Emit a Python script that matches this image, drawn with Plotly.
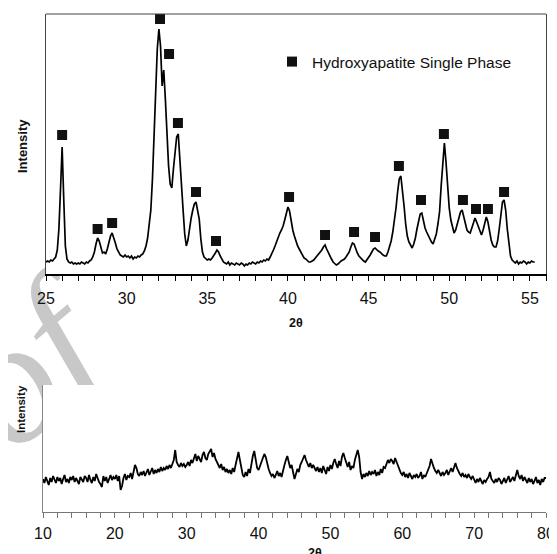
import numpy as np
import plotly.graph_objects as go

# ---------------- data ----------------
# Top pattern: 2theta 25.0 .. 55.3, step 0.1
top_start, top_step = 25.0, 0.1
top_intensity = [
    12, 13, 12, 14, 13, 15, 17, 24, 45, 85,
    127, 75, 28, 15, 12, 11, 12, 10, 11, 10,
    11, 10, 12, 11, 10, 12, 11, 13, 14, 17,
    22, 30, 36, 33, 26, 21, 22, 20, 25, 32,
    38, 41, 37, 31, 25, 21, 19, 18, 17, 19,
    17, 18, 16, 18, 15, 17, 16, 18, 17, 19,
    20, 23, 28, 36, 48, 64, 95, 145, 185, 225,
    245, 228, 188, 204, 175, 135, 108, 90, 86, 105,
    125, 137, 140, 118, 88, 64, 40, 28, 34, 46,
    56, 64, 70, 72, 64, 55, 35, 22, 17, 15,
    14, 15, 14, 16, 18, 21, 24, 22, 18, 15,
    12, 11, 10, 12, 9, 11, 10, 9, 11, 10,
    9, 11, 10, 8, 10, 9, 11, 10, 12, 11,
    10, 12, 11, 13, 12, 14, 13, 15, 14, 17,
    20, 24, 28, 33, 38, 41, 44, 48, 54, 62,
    67, 63, 52, 44, 38, 32, 28, 25, 22, 19,
    16, 15, 13, 12, 12, 13, 14, 16, 18, 20,
    21, 24, 27, 29, 25, 21, 18, 15, 12, 10,
    9, 10, 12, 13, 14, 15, 17, 19, 22, 27,
    31, 30, 25, 21, 18, 16, 14, 13, 12, 14,
    16, 19, 22, 25, 26, 24, 23, 22, 20, 19,
    18, 18, 22, 27, 33, 42, 52, 66, 82, 95,
    98, 85, 68, 50, 38, 32, 28, 26, 30, 36,
    45, 52, 60, 61, 52, 46, 42, 38, 35, 32,
    30, 34, 40, 50, 62, 88, 115, 131, 112, 85,
    66, 54, 46, 41, 44, 50, 56, 62, 64, 58,
    50, 44, 42, 41, 46, 52, 56, 52, 47, 42,
    39, 44, 52, 57, 52, 42, 34, 29, 27, 27,
    33, 45, 62, 72, 74, 64, 45, 28, 18, 14,
    12, 11, 13, 10, 12, 11, 13, 12, 10, 12,
    11, 13, 12, 12,
]

# Hydroxyapatite peak markers
hap_2theta = [26.0, 28.2, 29.1, 32.07, 32.63, 33.18, 34.3, 35.54, 40.07, 42.3,
              44.1, 45.4, 46.88, 48.25, 49.67, 50.85, 51.66, 52.4, 53.4]
hap_intensity = [139, 45, 51, 255, 220, 151, 82, 33, 77, 39,
                 42, 37, 108, 74, 140, 74, 65, 65, 82]

# Bottom pattern: 2theta 10 .. 80, step 0.2
bot_start, bot_step = 10.0, 0.2
bot_intensity = [
    33, 29, 35, 31, 27, 34, 30, 36, 32, 29,
    35, 31, 34, 28, 33, 37, 30, 33, 29, 35,
    32, 36, 30, 34, 31, 28, 35, 33, 30, 36,
    34, 30, 37, 32, 29, 35, 31, 38, 33, 30,
    28, 25, 36, 31, 35, 29, 33, 37, 32, 35,
    33, 37, 31, 36, 22, 26, 34, 38, 32, 36,
    35, 39, 33, 40, 47, 44, 38, 36, 40, 37,
    41, 36, 39, 43, 37, 40, 44, 38, 42, 39,
    43, 40, 45, 41, 44, 42, 46, 43, 47, 44,
    48, 52, 62, 50, 47, 45, 49, 46, 48, 45,
    47, 50, 46, 52, 49, 55, 58, 51, 56, 53,
    50, 57, 60, 54, 52, 58, 61, 63, 55, 59,
    53, 50, 47, 44, 48, 42, 45, 40, 43, 39,
    42, 38, 44, 40, 47, 55, 60, 52, 42, 37,
    35, 40, 36, 43, 39, 48, 56, 61, 50, 44,
    42, 46, 49, 53, 58, 55, 47, 43, 39, 36,
    38, 34, 37, 41, 36, 39, 35, 42, 47, 52,
    56, 50, 44, 47, 40, 33, 38, 43, 40, 47,
    50, 54, 57, 52, 48, 45, 49, 44, 47, 43,
    41, 45, 40, 44, 39, 46, 42, 38, 45, 41,
    47, 43, 49, 53, 48, 44, 51, 46, 55, 59,
    54, 48, 45, 50, 42, 46, 44, 52, 57, 62,
    55, 40, 33, 38, 35, 39, 36, 41, 37, 40,
    38, 42, 36, 40, 37, 43, 39, 45, 44, 48,
    52, 49, 53, 51, 48, 54, 50, 46, 42, 39,
    37, 40, 35, 38, 34, 39, 36, 33, 37, 35,
    38, 34, 36, 40, 33, 37, 35, 39, 42, 46,
    53, 48, 44, 41, 39, 42, 38, 36, 40, 37,
    39, 42, 37, 41, 44, 40, 46, 49, 44, 40,
    38, 36, 39, 35, 37, 34, 38, 35, 33, 36,
    32, 29, 33, 30, 34, 31, 28, 32, 30, 33,
    35, 40, 33, 31, 29, 33, 30, 34, 32, 28,
    31, 34, 29, 33, 36, 30, 32, 35, 31, 37,
    42, 36, 33, 37, 31, 35, 32, 29, 34, 30,
    33, 28, 31, 35, 29, 32, 27, 33, 30, 34, 34,
]

top_2theta = np.round(top_start + top_step * np.arange(len(top_intensity)), 2)
bot_2theta = np.round(bot_start + bot_step * np.arange(len(bot_intensity)), 2)

legend_name = "Hydroxyapatite Single Phase"
watermark_text = "Proof"

W, H = 557, 554
OX, OY = 8, 8          # page offset of the figure inside the browser window
FONT = "Liberation Sans, Arial, sans-serif"


def px(x):
    return (x - OX) / W


def py(y):
    return 1 - (y - OY) / H


fig = go.Figure()

# watermark (drawn first, hidden behind the white plot areas)
fig.add_trace(go.Bar(
    x=[-66 - OX], y=[2 * (H - (444 - OY))], base=[0], width=[300],
    xaxis="x", yaxis="y",
    marker=dict(color="rgba(0,0,0,0)", line=dict(width=0)),
    text=[watermark_text], textposition="inside", insidetextanchor="middle",
    textangle=-40, constraintext="none",
    textfont=dict(family="Liberation Serif, Times New Roman, serif", size=175,
                  color="#c8c8c8", style="italic"),
    hoverinfo="skip", showlegend=False,
))

fig.add_trace(go.Scatter(
    x=top_2theta, y=top_intensity, mode="lines", xaxis="x2", yaxis="y2",
    line=dict(color="black", width=1.7), showlegend=False, hoverinfo="skip",
))
fig.add_trace(go.Scatter(
    x=hap_2theta, y=hap_intensity, mode="markers", xaxis="x2", yaxis="y2",
    marker=dict(symbol="square", size=10, color="#111111"),
    name=legend_name, showlegend=True, hoverinfo="skip",
))
fig.add_trace(go.Scatter(
    x=bot_2theta, y=bot_intensity, mode="lines", xaxis="x3", yaxis="y3",
    line=dict(color="black", width=1.8), showlegend=False, hoverinfo="skip",
))

top_x = [px(46), px(546)]
top_y = [py(274), py(14)]
bot_x = [px(43), px(546)]
bot_y = [py(512), py(385)]

tickfont = dict(family=FONT, size=16, color="#111111")

fig.update_layout(
    template="none",
    width=W, height=H, autosize=False,
    margin=dict(l=0, r=0, t=0, b=0, pad=0, autoexpand=False),
    paper_bgcolor="white", plot_bgcolor="rgba(0,0,0,0)",
    xaxis=dict(domain=[0, 1], range=[0, W], visible=False, fixedrange=True,
               automargin=False),
    yaxis=dict(domain=[0, 1], range=[0, H], visible=False, fixedrange=True,
               automargin=False),
    xaxis2=dict(
        domain=top_x, range=[25, 56], anchor="y2", automargin=False,
        showline=True, linecolor="black", linewidth=2, mirror=False,
        ticks="outside", ticklen=5, tickwidth=1, tickcolor="black",
        tick0=25, dtick=5, tickfont=tickfont, ticklabelstandoff=4,
        minor=dict(dtick=1, ticks="outside", ticklen=5, tickwidth=1,
                   tickcolor="black", showgrid=False),
        showgrid=False, zeroline=False,
    ),
    yaxis2=dict(
        domain=top_y, range=[0, 260], anchor="x2", automargin=False,
        showline=True, linecolor="#444444", linewidth=1, mirror=True,
        ticks="", showticklabels=False, showgrid=False, zeroline=False,
    ),
    xaxis3=dict(
        domain=bot_x, range=[10, 80], anchor="y3", automargin=False,
        showline=True, linecolor="#777777", linewidth=1,
        ticks="outside", ticklen=5, tickwidth=1, tickcolor="#777777",
        tick0=10, dtick=10, tickfont=tickfont, ticklabelstandoff=2,
        minor=dict(dtick=2, ticks="outside", ticklen=5, tickwidth=1,
                   tickcolor="#777777", showgrid=False),
        showgrid=False, zeroline=False,
    ),
    yaxis3=dict(
        domain=bot_y, range=[0, 127], anchor="x3", automargin=False,
        showline=True, linecolor="#888888", linewidth=1,
        ticks="", showticklabels=False, showgrid=False, zeroline=False,
    ),
    showlegend=True,
    legend=dict(
        x=px(272), y=py(62), xanchor="left", yanchor="middle",
        bgcolor="rgba(0,0,0,0)", borderwidth=0,
        font=dict(family=FONT, size=15.5, color="#111111"),
    ),
    shapes=[
        dict(type="rect", xref="x2", yref="y2", x0=25, x1=56, y0=0, y1=260,
             fillcolor="white", line=dict(width=0), layer="below"),
        dict(type="rect", xref="x3", yref="y3", x0=10, x1=80, y0=0, y1=127,
             fillcolor="white", line=dict(width=0), layer="below"),
        dict(type="line", xref="paper", yref="paper",
             x0=top_x[0], x1=top_x[1], y0=top_y[1], y1=top_y[1],
             line=dict(color="#444444", width=1), layer="above"),
    ],
    annotations=[
        dict(text="<b>2θ</b>", x=px(296), y=py(323), xref="paper", yref="paper",
             showarrow=False, xanchor="center", yanchor="middle",
             font=dict(family=FONT, size=12.5, color="#111111")),
        dict(text="<b>2θ</b>", x=px(315), y=py(553), xref="paper", yref="paper",
             showarrow=False, xanchor="center", yanchor="middle",
             font=dict(family=FONT, size=12.5, color="#111111")),
        dict(text="<b>Intensity</b>", x=px(22), y=py(146), xref="paper", yref="paper",
             showarrow=False, xanchor="center", yanchor="middle", textangle=-90,
             font=dict(family=FONT, size=13, color="#111111")),
        dict(text="<b>Intensity</b>", x=px(21), y=py(409), xref="paper", yref="paper",
             showarrow=False, xanchor="center", yanchor="middle", textangle=-90,
             font=dict(family=FONT, size=11.5, color="#111111")),
    ],
)

fig.write_html("out.html")
